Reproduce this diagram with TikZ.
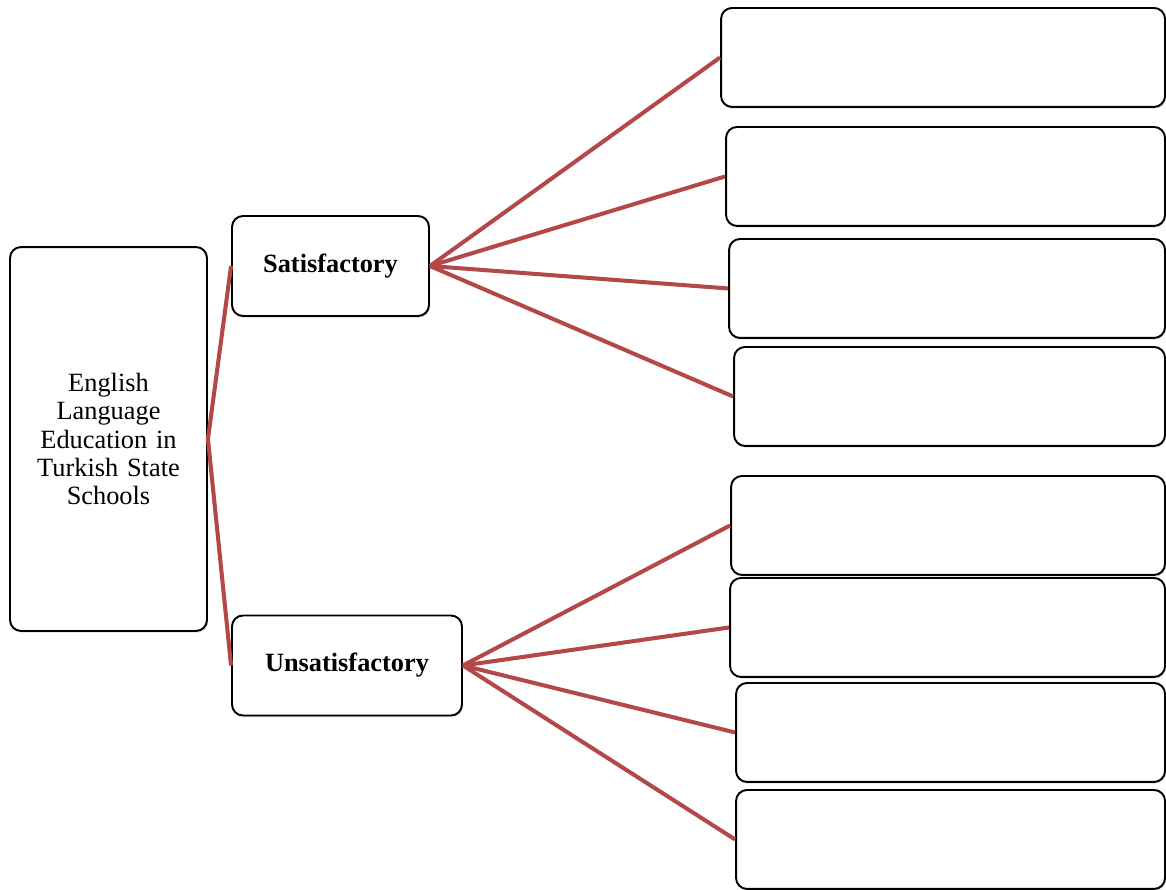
\documentclass[tikz,border=0pt]{standalone}
\usepackage{fontspec}
\setmainfont{Liberation Serif}
\usepackage{tikz}
\usetikzlibrary{shadows}
\definecolor{linkred}{HTML}{B44848}

\begin{document}
\begin{tikzpicture}[
x=0.02cm,y=-0.02cm,
box/.style={draw,line width=1.1pt,rounded corners=0.22cm,fill=white,
drop shadow={shadow xshift=0.6pt,shadow yshift=-1pt,fill=black!25}},
mainbox/.style={box,minimum width=3.94cm,minimum height=7.68cm,
text width=3.2cm,align=center,font=\fontsize{15}{16.2}\selectfont},
branch/.style={box,minimum height=2cm,font=\fontsize{15}{18}\selectfont\bfseries},
leaf/.style={box,minimum height=1.98cm,anchor=north east},
link/.style={linkred,line width=2.3pt}
]
\useasboundingbox (0,0) rectangle (1166,889);

\node[mainbox] (root) at (108.5,439) {English\\ Language\\ Education in\\ Turkish State\\ Schools};

\node[branch,minimum width=3.94cm] (sat)   at (330.5,266) {Satisfactory};
\node[branch,minimum width=4.6cm]  (unsat) at (347,665.5) {Unsatisfactory};

% empty boxes on the right
\foreach \n/\x/\y in {s1/722/7,s2/727/126,s3/730/238,s4/735/346,
u1/732/475,u2/731/577,u3/737/682,u4/737/789}
\node[leaf,minimum width={(1166-\x)*0.02cm}] (\n) at (1166,\y) {};

\draw[link] (root.east) -- (sat.west);
\draw[link] (root.east) -- (unsat.west);
\foreach \r in {s1,s2,s3,s4}
\draw[link] (sat.east) -- (\r.west);
\foreach \r in {u1,u2,u3,u4}
\draw[link] (unsat.east) -- (\r.west);
\end{tikzpicture}
\end{document}
